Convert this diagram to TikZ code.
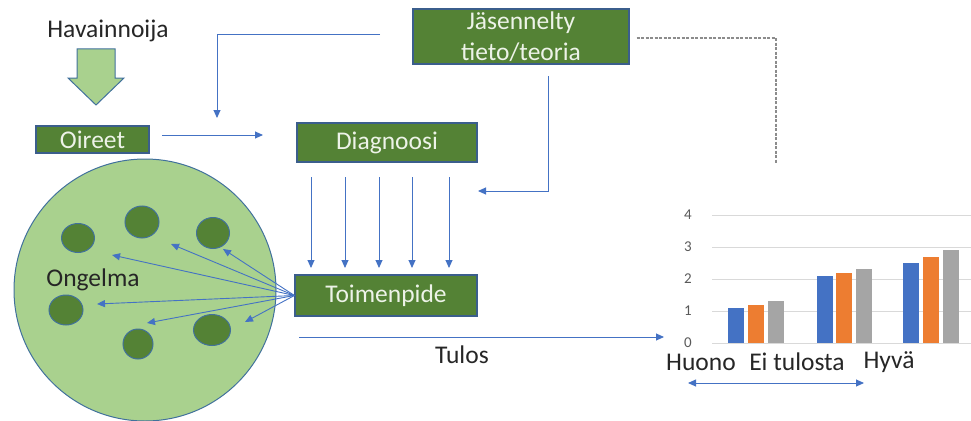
\documentclass[tikz,border=0pt]{standalone}
\usepackage{fontspec}
\setmainfont{Carlito}
\usetikzlibrary{arrows.meta,shapes.geometric}

\definecolor{leaf}{HTML}{548235}
\definecolor{pale}{HTML}{A9D18E}
\definecolor{rim}{HTML}{41719C}
\definecolor{boxrim}{HTML}{3B5E8C}
\definecolor{linkblue}{HTML}{4472C4}
\definecolor{boxtext}{HTML}{EDF3E8}
\definecolor{ink}{HTML}{262626}
\definecolor{tick}{HTML}{595959}
\definecolor{grid}{HTML}{D9D9D9}
\definecolor{barblue}{HTML}{4472C4}
\definecolor{barorange}{HTML}{ED7D31}
\definecolor{bargray}{HTML}{A5A5A5}
\definecolor{dotgray}{HTML}{8C8C8C}

\tikzset{
  box/.style={draw=boxrim, line width=1.2pt, fill=leaf, text=boxtext,
    font=\fontsize{25.5}{31}\selectfont, inner sep=0pt, align=center},
  lbl/.style={text=ink, font=\fontsize{25.5}{31}\selectfont, inner sep=0pt},
  ticklbl/.style={text=tick, font=\fontsize{15}{18}\selectfont, inner sep=0pt},
  link/.style={draw=linkblue, line width=0.9pt, -{Triangle[length=8pt,width=7pt]}},
  twoway/.style={draw=linkblue, line width=0.9pt,
    {Triangle[length=8pt,width=7pt]}-{Triangle[length=8pt,width=7pt]}},
  blob/.style={draw=rim, line width=1pt, fill=leaf, ellipse, inner sep=0pt},
}

\begin{document}
\begin{tikzpicture}[x=1pt, y=-1pt]
\useasboundingbox (0,0) rectangle (971,420);

% problem area with its parts
\node[draw=rim, line width=1pt, fill=pale, circle, minimum size=262pt, inner sep=0pt] (prob) at (145,290) {};
\node[blob, minimum width=33pt, minimum height=29pt] (p1) at (78,238) {};
\node[blob, minimum width=34pt, minimum height=32pt] (p2) at (142,222) {};
\node[blob, minimum width=33pt, minimum height=31pt] (p3) at (213,233) {};
\node[blob, minimum width=34pt, minimum height=30pt] (p4) at (66,310) {};
\node[blob, minimum width=30pt, minimum height=30pt] (p5) at (138,344) {};
\node[blob, minimum width=37pt, minimum height=31pt] (p6) at (212,330) {};
\node[lbl] (ongelma) at (93,280) {Ongelma};

% observer and the big arrow
\node[lbl] (obs) at (108,31) {Havainnoija};
\draw[draw=rim, line width=1pt, fill=pale]
  (77,49) -- (115,49) -- (115,78) -- (124,78) -- (96,105) -- (68,78) -- (77,78) -- cycle;

% boxes
\node[box, minimum width=113pt, minimum height=27pt] (oireet) at (92.5,139.5) {Oireet};
\node[box, minimum width=216pt, minimum height=55pt] (theory) at (521,36.5) {Jäsennelty\\tieto/teoria};
\node[box, minimum width=180pt, minimum height=39pt] (diag) at (387,142.5) {Diagnoosi};
\node[box, minimum width=182pt, minimum height=41pt] (toim) at (386,295.5) {Toimenpide};

% free ends of connectors
\coordinate (fbStart) at (380,34);
\coordinate (fbEnd) at (217,118);
\coordinate (oiStart) at (162,135);
\coordinate (oiEnd) at (263,135);
\coordinate (thStart) at (548,76);
\coordinate (thEnd) at (478,191);
\coordinate (tuStart) at (299,337);
\coordinate (tuEnd) at (664,337);
\coordinate (dotEnd) at (776,164);

\draw[link] (fbStart) -| (fbEnd);
\draw[link] (oiStart) -- (oiEnd);
\draw[link] (thStart) |- (thEnd);

% five arrows from diagnosis to action
\foreach \xx in {311,345,379,412,449}
  \draw[link] (\xx,177) -- (\xx,268);

% action spreading into the problem area
\foreach \tx/\ty in {112/255,171/244,223/249,97/304,147/323,245/322}
  \draw[link] (toim.west) -- (\tx,\ty);

% result
\draw[link] (tuStart) -- (tuEnd);
\node[lbl] (tulos) at (462,355) {Tulos};

% dotted link from theory to the chart
\draw[dotgray, line width=1.3pt, dash pattern=on 3pt off 1.5pt]
  ([xshift=7pt,yshift=-1.5pt]theory.east) -| (dotEnd);

% bar chart
\foreach \k in {0,...,4} {
  \draw[grid, line width=1pt] (712,343-32*\k) -- (971,343-32*\k);
  \node[ticklbl] at (688,343-32*\k) {\k};
}
\foreach \xb/\val/\col in {728/1.1/barblue,748/1.2/barorange,768/1.3/bargray,
                           817/2.1/barblue,836/2.2/barorange,856/2.3/bargray,
                           903/2.5/barblue,923/2.7/barorange,943/2.9/bargray}
  \fill[\col] (\xb,343) rectangle (\xb+15.5,343-32*\val);

\node[lbl] (huono) at (701,362) {Huono};
\node[lbl] (eitul) at (797,362) {Ei tulosta};
\node[lbl] (hyva) at (889,362) {Hyvä};
\coordinate (scaleL) at (688,383);
\coordinate (scaleR) at (864,383);
\draw[twoway] (scaleL) -- (scaleR);
\end{tikzpicture}
\end{document}
